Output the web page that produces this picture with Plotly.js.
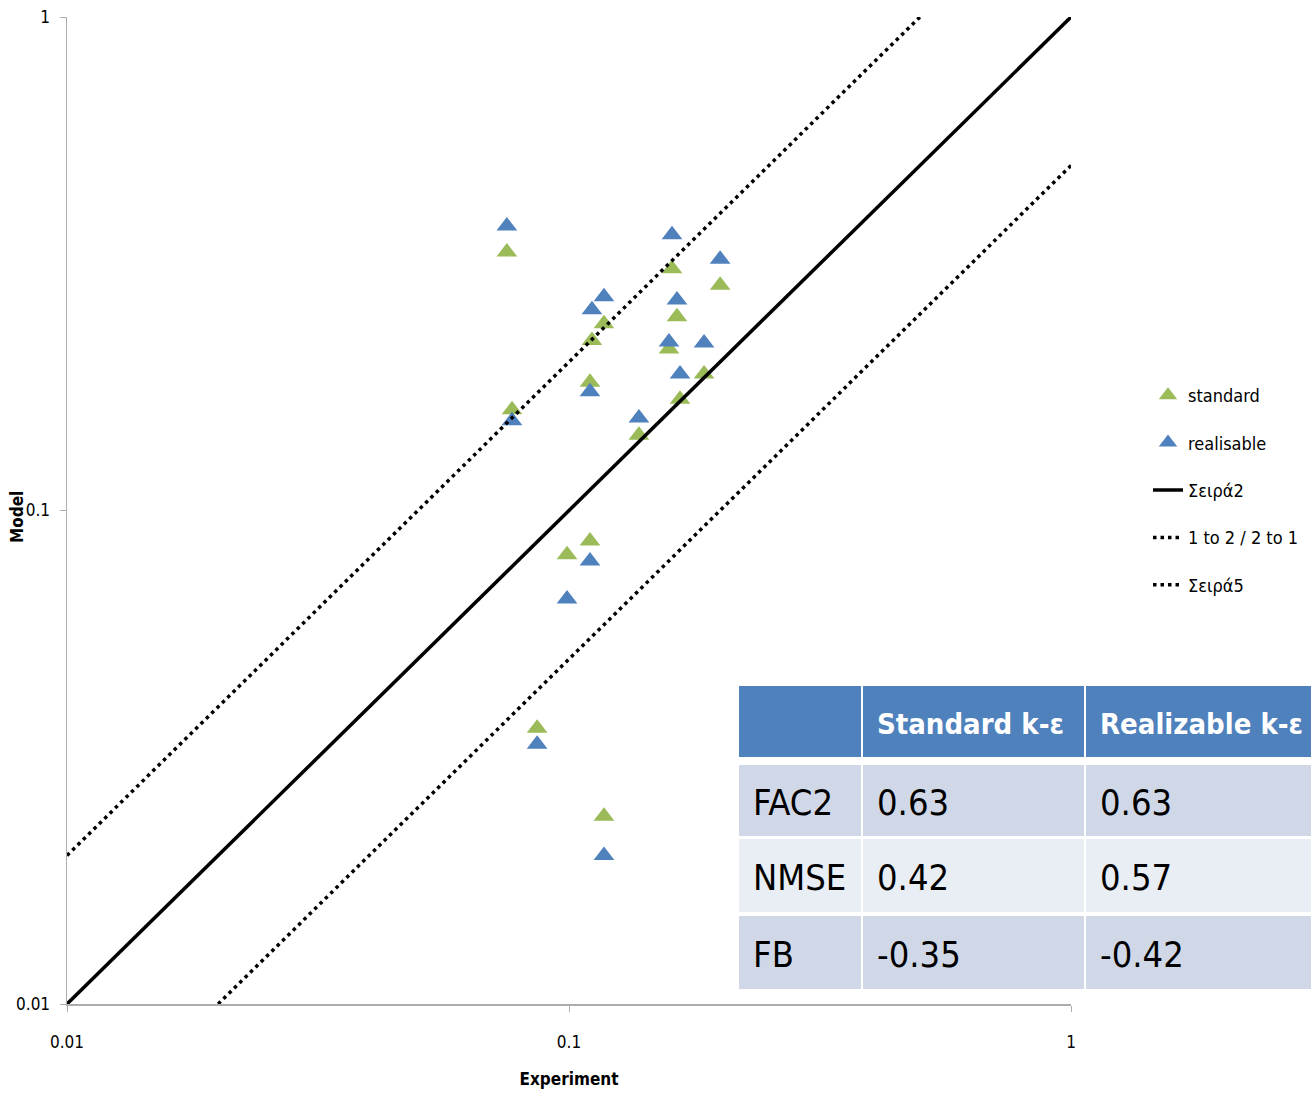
<!DOCTYPE html>
<html>
<head>
<meta charset="utf-8">
<script src="https://cdn.plot.ly/plotly-3.0.1.min.js"></script>
<style>html,body{margin:0;padding:0;background:#fff;}#chart{width:1311px;height:1098px;}</style>
</head>
<body>
<div id="chart"></div>
<script>
// Experiment (x) vs Model (y) values
const stdExp = [0.0752, 0.0770, 0.1111, 0.1174, 0.1101, 0.1604, 0.1641, 0.1582, 0.2000, 0.1858, 0.1664, 0.1378, 0.0991, 0.1101, 0.0864, 0.1174];
const stdModel = [0.334, 0.160, 0.221, 0.239, 0.182, 0.309, 0.247, 0.2125, 0.286, 0.189, 0.168, 0.142, 0.0813, 0.0867, 0.0362, 0.0240];
const realExp = [0.0752, 0.0770, 0.1111, 0.1174, 0.1101, 0.1604, 0.1641, 0.1582, 0.2000, 0.1858, 0.1664, 0.1378, 0.0991, 0.1101, 0.0864, 0.1174];
const realModel = [0.377, 0.152, 0.255, 0.271, 0.174, 0.362, 0.267, 0.2195, 0.323, 0.2185, 0.189, 0.154, 0.0662, 0.0790, 0.0336, 0.0200];

// reference lines
const oneX = [0.01, 1], oneY = [0.01, 1];
const upX = [0.01, 0.5], upY = [0.02, 1];
const lowX = [0.02, 1], lowY = [0.01, 0.5];

// table
const tableHeader = ['', 'Standard k-ε', 'Realizable k-ε'];
const metricNames = ['FAC2', 'NMSE', 'FB'];
const stdMetrics = ['0.63', '0.42', '-0.35'];
const realMetrics = ['0.63', '0.57', '-0.42'];

const tickVals = [0.01, 0.1, 1];
const tickText = ['0.01', '0.1', '1'];

const FONT = '"Liberation Sans Narrow", "DejaVu Sans Condensed", "Open Sans", sans-serif';
const green = '#9BBB59', blue = '#4F81BD';

// layout geometry (pixels) for plot area
const W = 1311, H = 1098, ML = 67, MR = 0, MT = 17, MB = 94;
const PW = W - ML - MR, PH = H - MT - MB;
const px = v => (v - ML) / PW;
const py = v => (H - MB - v) / PH;

const traces = [
  {x: stdExp, y: stdModel, mode: 'markers', type: 'scatter', name: 'standard', legendgroup: 'a',
   marker: {symbol: 'triangle-up', size: 18, color: green}},
  {x: realExp, y: realModel, mode: 'markers', type: 'scatter', name: 'realisable', legendgroup: 'b',
   marker: {symbol: 'triangle-up', size: 18, color: blue}},
  {x: oneX, y: oneY, mode: 'lines', type: 'scatter', name: 'Σειρά2', legendgroup: 'c',
   line: {color: '#000', width: 3.5}},
  {x: upX, y: upY, mode: 'lines', type: 'scatter', name: '1 to 2 / 2 to 1', legendgroup: 'd',
   line: {color: '#000', width: 3.5, dash: '3.5px,4px'}},
  {x: lowX, y: lowY, mode: 'lines', type: 'scatter', name: 'Σειρά5', legendgroup: 'e',
   line: {color: '#000', width: 3.5, dash: '3.5px,4px'}}
];

// table drawn with shapes + annotations
const colEdges = [[739, 861], [863, 1084], [1086, 1330]];
const rowEdges = [[686, 757], [765, 836], [839, 912], [916, 989]];
const rowFills = [blue, '#D0D8E8', '#E9EDF4', '#D0D8E8'];
const columns = [metricNames, stdMetrics, realMetrics];
const shapes = [];
const annotations = [];
rowEdges.forEach((r, ri) => {
  colEdges.forEach((c, ci) => {
    shapes.push({type: 'rect', xref: 'paper', yref: 'paper', layer: 'above',
      x0: px(c[0]), x1: px(c[1]), y0: py(r[1]), y1: py(r[0]),
      fillcolor: rowFills[ri], line: {width: 0}});
    const txt = ri === 0 ? tableHeader[ci] : columns[ci][ri - 1];
    if (txt) {
      annotations.push({xref: 'paper', yref: 'paper', x: px(c[0] + 12), y: py((r[0] + r[1]) / 2 + 2),
        xanchor: 'left', yanchor: 'middle', showarrow: false, text: txt,
        font: ri === 0 ? {family: FONT, size: 29, color: '#fff', weight: 'bold'}
                       : {family: FONT, size: 36, color: '#000'}});
    }
  });
});

annotations.push({xref: 'paper', yref: 'paper', x: px(17), y: py(517), textangle: -90,
  xanchor: 'center', yanchor: 'middle', showarrow: false, text: 'Model',
  font: {family: FONT, size: 17, color: '#000', weight: 'bold'}});

const axisCommon = {
  type: 'log', showgrid: false, zeroline: false, showline: true, linecolor: '#ADADAD', linewidth: 1.5,
  ticks: 'outside', ticklen: 6, tickcolor: '#ADADAD', tickvals: tickVals, ticktext: tickText,
  tickfont: {family: FONT, size: 17, color: '#000'}
};

const layout = {
  width: W, height: H,
  margin: {l: ML, r: MR, t: MT, b: MB},
  paper_bgcolor: '#fff', plot_bgcolor: '#fff',
  font: {family: FONT},
  xaxis: Object.assign({}, axisCommon, {domain: [0, px(1071)], range: [-2, 0], ticklabelstandoff: 16,
    title: {text: 'Experiment', font: {family: FONT, size: 17, color: '#000', weight: 'bold'}, standoff: 22}}),
  yaxis: Object.assign({}, axisCommon, {range: [-2, 0], ticklabelstandoff: 6}),
  showlegend: true,
  legend: {x: px(1148), y: py(377), xanchor: 'left', yanchor: 'top', tracegroupgap: 21,
    font: {family: FONT, size: 18, color: '#000'}, bgcolor: 'rgba(0,0,0,0)'},
  shapes: shapes,
  annotations: annotations
};

Plotly.newPlot('chart', traces, layout, {displayModeBar: false, staticPlot: true});
</script>
</body>
</html>
